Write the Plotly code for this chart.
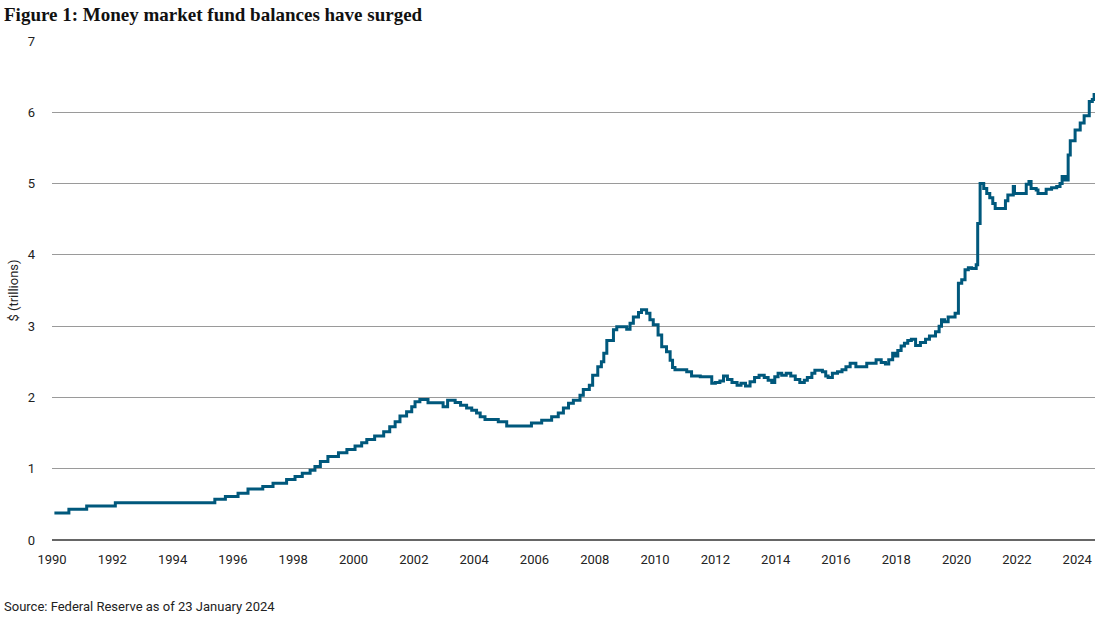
import plotly.graph_objects as go

# Step start dates (decimal years) and money market fund balances ($ trillions)
dates = [
    1990.08, 1990.56, 1991.15, 1992.1, 1995.4, 1995.75, 1996.17, 1996.5, 1996.99, 1997.33,
    1997.78, 1998.06, 1998.3, 1998.56, 1998.72, 1998.9, 1999.15, 1999.5, 1999.78, 2000.05,
    2000.27, 2000.44, 2000.7, 2001.0, 2001.2, 2001.38, 2001.54, 2001.76, 2001.93, 2002.04,
    2002.2, 2002.47, 2002.97, 2003.12, 2003.37, 2003.55, 2003.75, 2003.92, 2004.08, 2004.2,
    2004.36, 2004.8, 2005.08, 2005.9, 2006.24, 2006.57, 2006.79, 2006.96, 2007.13, 2007.29,
    2007.51, 2007.62, 2007.82, 2007.93, 2008.1, 2008.22, 2008.3, 2008.4, 2008.62, 2008.73,
    2009.06, 2009.17, 2009.28, 2009.45, 2009.55, 2009.72, 2009.83, 2009.94, 2010.1, 2010.22,
    2010.38, 2010.5, 2010.58, 2010.66, 2011.05, 2011.21, 2011.5, 2011.88, 2012.0, 2012.15,
    2012.27, 2012.4, 2012.55, 2012.72, 2012.85, 2013.0, 2013.15, 2013.3, 2013.45, 2013.62,
    2013.75, 2013.87, 2013.97, 2014.08, 2014.2, 2014.35, 2014.5, 2014.65, 2014.8, 2014.95,
    2015.05, 2015.2, 2015.3, 2015.55, 2015.66, 2015.74, 2015.88, 2016.05, 2016.2, 2016.33,
    2016.47, 2016.66, 2017.02, 2017.33, 2017.5, 2017.64, 2017.75, 2017.88, 2017.97, 2018.05,
    2018.16, 2018.27, 2018.38, 2018.5, 2018.64, 2018.8, 2018.97, 2019.1, 2019.3, 2019.42,
    2019.5, 2019.6, 2019.72, 2019.95, 2020.06, 2020.17, 2020.28, 2020.39, 2020.5, 2020.65,
    2020.7, 2020.78, 2020.9, 2021.0, 2021.1, 2021.2, 2021.28, 2021.62, 2021.7, 2021.88,
    2021.92, 2022.31, 2022.4, 2022.47, 2022.64, 2022.7, 2022.97, 2023.15, 2023.32, 2023.43,
    2023.5, 2023.6, 2023.7, 2023.77, 2023.93, 2024.1, 2024.23, 2024.4, 2024.5, 2024.56,
]
balances = [
    0.38, 0.43, 0.477, 0.523, 0.57, 0.61, 0.655, 0.715, 0.75, 0.795,
    0.85, 0.89, 0.935, 0.98, 1.03, 1.10, 1.17, 1.225, 1.27, 1.32,
    1.365, 1.41, 1.46, 1.52, 1.59, 1.66, 1.74, 1.80, 1.87, 1.94,
    1.97, 1.925, 1.87, 1.96, 1.93, 1.89, 1.85, 1.82, 1.78, 1.73,
    1.69, 1.66, 1.60, 1.64, 1.68, 1.73, 1.78, 1.85, 1.92, 1.96,
    2.03, 2.11, 2.17, 2.31, 2.43, 2.50, 2.62, 2.80, 2.95, 2.99,
    2.955, 3.04, 3.13, 3.19, 3.23, 3.18, 3.09, 3.02, 2.875, 2.71,
    2.64, 2.52, 2.42, 2.39, 2.36, 2.30, 2.29, 2.20, 2.21, 2.23,
    2.30, 2.25, 2.21, 2.17, 2.20, 2.16, 2.22, 2.28, 2.31, 2.28,
    2.24, 2.21, 2.29, 2.34, 2.31, 2.34, 2.30, 2.25, 2.21, 2.24,
    2.28, 2.34, 2.38, 2.36, 2.30, 2.28, 2.34, 2.36, 2.39, 2.43,
    2.48, 2.43, 2.48, 2.53, 2.49, 2.47, 2.53, 2.62, 2.58, 2.66,
    2.72, 2.76, 2.80, 2.815, 2.73, 2.77, 2.815, 2.86, 2.92, 3.0,
    3.09, 3.06, 3.13, 3.18, 3.60, 3.65, 3.79, 3.82, 3.81, 3.86,
    4.44, 5.0, 4.93, 4.86, 4.80, 4.72, 4.65, 4.76, 4.84, 4.96,
    4.86, 4.99, 5.03, 4.93, 4.91, 4.86, 4.92, 4.94, 4.96, 5.0,
    5.10, 5.05, 5.4, 5.6, 5.75, 5.85, 5.95, 6.15, 6.18, 6.27,
]

x_ticks = list(range(1990, 2025, 2))
x_tick_labels = [str(y) for y in x_ticks]
y_ticks = list(range(0, 8))

LINE = "#00587C"
FONT = "Roboto, Liberation Sans, sans-serif"

fig = go.Figure()
fig.add_trace(go.Scatter(
    x=dates, y=balances, mode="lines",
    line=dict(color=LINE, width=3, shape="hv"),
    hoverinfo="skip", showlegend=False,
))

fig.update_layout(
    width=1100, height=618,
    margin=dict(l=52, r=5, t=41, b=78, autoexpand=False),
    paper_bgcolor="white", plot_bgcolor="white",
    font=dict(family=FONT, size=13, color="#222"),
    xaxis=dict(
        range=[1990, 2024.59], tickmode="array", tickvals=x_ticks, ticktext=x_tick_labels,
        showgrid=False, zeroline=False, showline=False, ticks="", automargin=False,
        ticklabelstandoff=10,
        tickfont=dict(size=13, color="#222"),
    ),
    yaxis=dict(
        range=[0, 7], tickmode="array", tickvals=y_ticks,
        showgrid=True, gridcolor="#9a9a9a", gridwidth=1,
        zeroline=True, zerolinecolor="#666", zerolinewidth=1.5,
        showline=False, ticks="", ticklabelstandoff=16, automargin=False,
        tickfont=dict(size=13, color="#222"),
        title=dict(text="$ (trillions)", font=dict(size=13, color="#222"), standoff=6),
    ),
    annotations=[
        dict(text="<b>Figure 1: Money market fund balances have surged</b>", xref="paper", yref="paper",
             x=-50/1043, y=(499+26)/499, xanchor="left", yanchor="middle", showarrow=False,
             font=dict(family="Liberation Serif, DejaVu Serif, serif", size=19, color="#111")),
        dict(text="Source: Federal Reserve as of 23 January 2024", xref="paper", yref="paper",
             x=-50/1043, y=-66/499, xanchor="left", yanchor="middle", showarrow=False,
             font=dict(family=FONT, size=13, color="#222")),
    ],
)

fig.write_html(
    "out.html",
    config={"displayModeBar": False},
    post_script="document.body.style.margin='0';document.body.style.padding='0';document.body.style.overflow='hidden';",
)
